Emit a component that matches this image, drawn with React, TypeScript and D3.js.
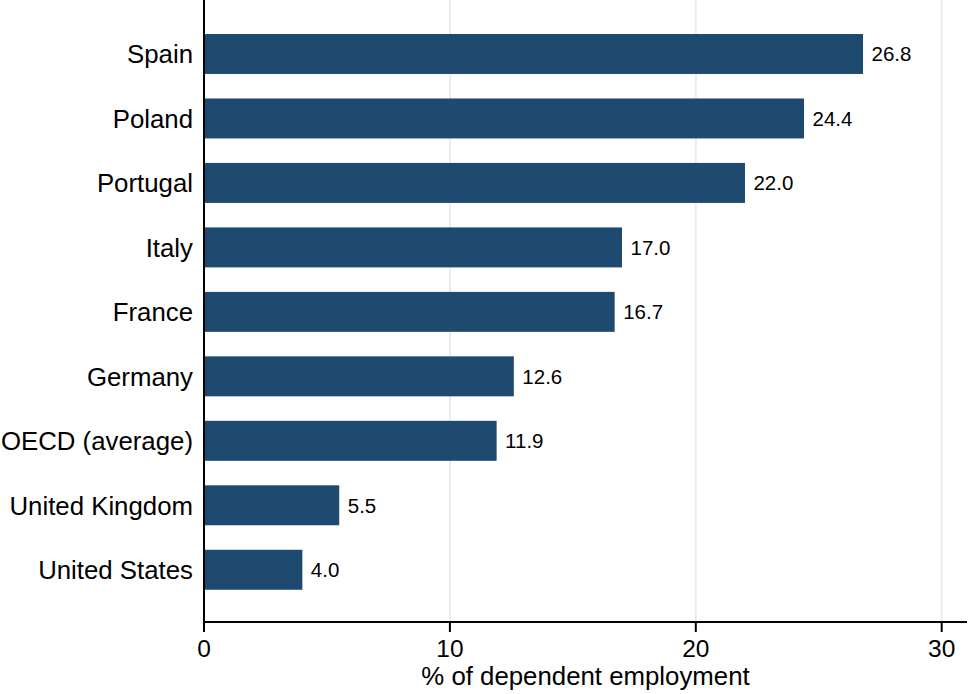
import { useEffect, useRef } from 'react';
import * as d3 from 'd3';

const countries = [
  'Spain',
  'Poland',
  'Portugal',
  'Italy',
  'France',
  'Germany',
  'OECD (average)',
  'United Kingdom',
  'United States',
];
const shares = [26.8, 24.4, 22.0, 17.0, 16.7, 12.6, 11.9, 5.5, 4.0];
const xTicks = [0, 10, 20, 30];
const xTitle = '% of dependent employment';

const WIDTH = 969;
const HEIGHT = 694;

export default function App() {
  const svgRef = useRef<SVGSVGElement>(null);

  useEffect(() => {
    document.body.style.margin = '0';
    if (!svgRef.current) return;

    const svg = d3.select(svgRef.current);
    svg.selectAll('*').remove();

    const left = 204;
    const right = 967;
    const axisY = 622;
    const font = 'Liberation Sans, Arial, Helvetica, sans-serif';

    const x = d3.scaleLinear().domain([0, 31]).range([left, left + 31 * 24.59]);
    const y = d3
      .scaleBand<string>()
      .domain(countries)
      .range([21.75, 602])
      .paddingInner(0.38)
      .paddingOuter(0.19);

    // gridlines
    svg
      .append('g')
      .selectAll('line')
      .data(xTicks.filter(t => t > 0))
      .enter()
      .append('line')
      .attr('x1', d => x(d))
      .attr('x2', d => x(d))
      .attr('y1', 0)
      .attr('y2', axisY)
      .attr('stroke', '#e4eef3')
      .attr('stroke-width', 2);

    // bars
    const rows = countries.map((c, i) => ({ name: c, value: shares[i] }));
    svg
      .append('g')
      .selectAll('rect')
      .data(rows)
      .enter()
      .append('rect')
      .attr('x', x(0))
      .attr('y', d => y(d.name)!)
      .attr('width', d => x(d.value) - x(0))
      .attr('height', y.bandwidth())
      .attr('fill', '#1e4a6f');

    // value labels
    svg
      .append('g')
      .selectAll('text')
      .data(rows)
      .enter()
      .append('text')
      .attr('x', d => x(d.value) + 8.5)
      .attr('y', d => y(d.name)! + y.bandwidth() / 2)
      .attr('dy', '0.36em')
      .attr('font-family', font)
      .attr('font-size', 20.5)
      .attr('fill', '#000')
      .text(d => d.value.toFixed(1));

    // category labels
    svg
      .append('g')
      .selectAll('text')
      .data(countries)
      .enter()
      .append('text')
      .attr('x', 193)
      .attr('y', d => y(d)! + y.bandwidth() / 2)
      .attr('dy', '0.36em')
      .attr('text-anchor', 'end')
      .attr('font-family', font)
      .attr('font-size', 25.8)
      .attr('fill', '#000')
      .text(d => d);

    // axes
    svg
      .append('line')
      .attr('x1', left)
      .attr('x2', left)
      .attr('y1', 0)
      .attr('y2', axisY + 1)
      .attr('stroke', '#000')
      .attr('stroke-width', 2);
    svg
      .append('line')
      .attr('x1', left - 1)
      .attr('x2', right)
      .attr('y1', axisY)
      .attr('y2', axisY)
      .attr('stroke', '#000')
      .attr('stroke-width', 2);

    const ticks = svg.append('g');
    ticks
      .selectAll('line')
      .data(xTicks)
      .enter()
      .append('line')
      .attr('x1', d => x(d))
      .attr('x2', d => x(d))
      .attr('y1', axisY)
      .attr('y2', axisY + 10)
      .attr('stroke', '#000')
      .attr('stroke-width', 2);
    ticks
      .selectAll('text')
      .data(xTicks)
      .enter()
      .append('text')
      .attr('x', d => x(d))
      .attr('y', 657)
      .attr('text-anchor', 'middle')
      .attr('font-family', font)
      .attr('font-size', 24.5)
      .attr('fill', '#000')
      .text(d => String(d));

    svg
      .append('text')
      .attr('x', (left + right) / 2)
      .attr('y', 685)
      .attr('text-anchor', 'middle')
      .attr('font-family', font)
      .attr('font-size', 25.8)
      .attr('fill', '#000')
      .text(xTitle);
  }, []);

  return (
    <svg
      ref={svgRef}
      width={WIDTH}
      height={HEIGHT}
      style={{ display: 'block', background: '#fff' }}
    />
  );
}
